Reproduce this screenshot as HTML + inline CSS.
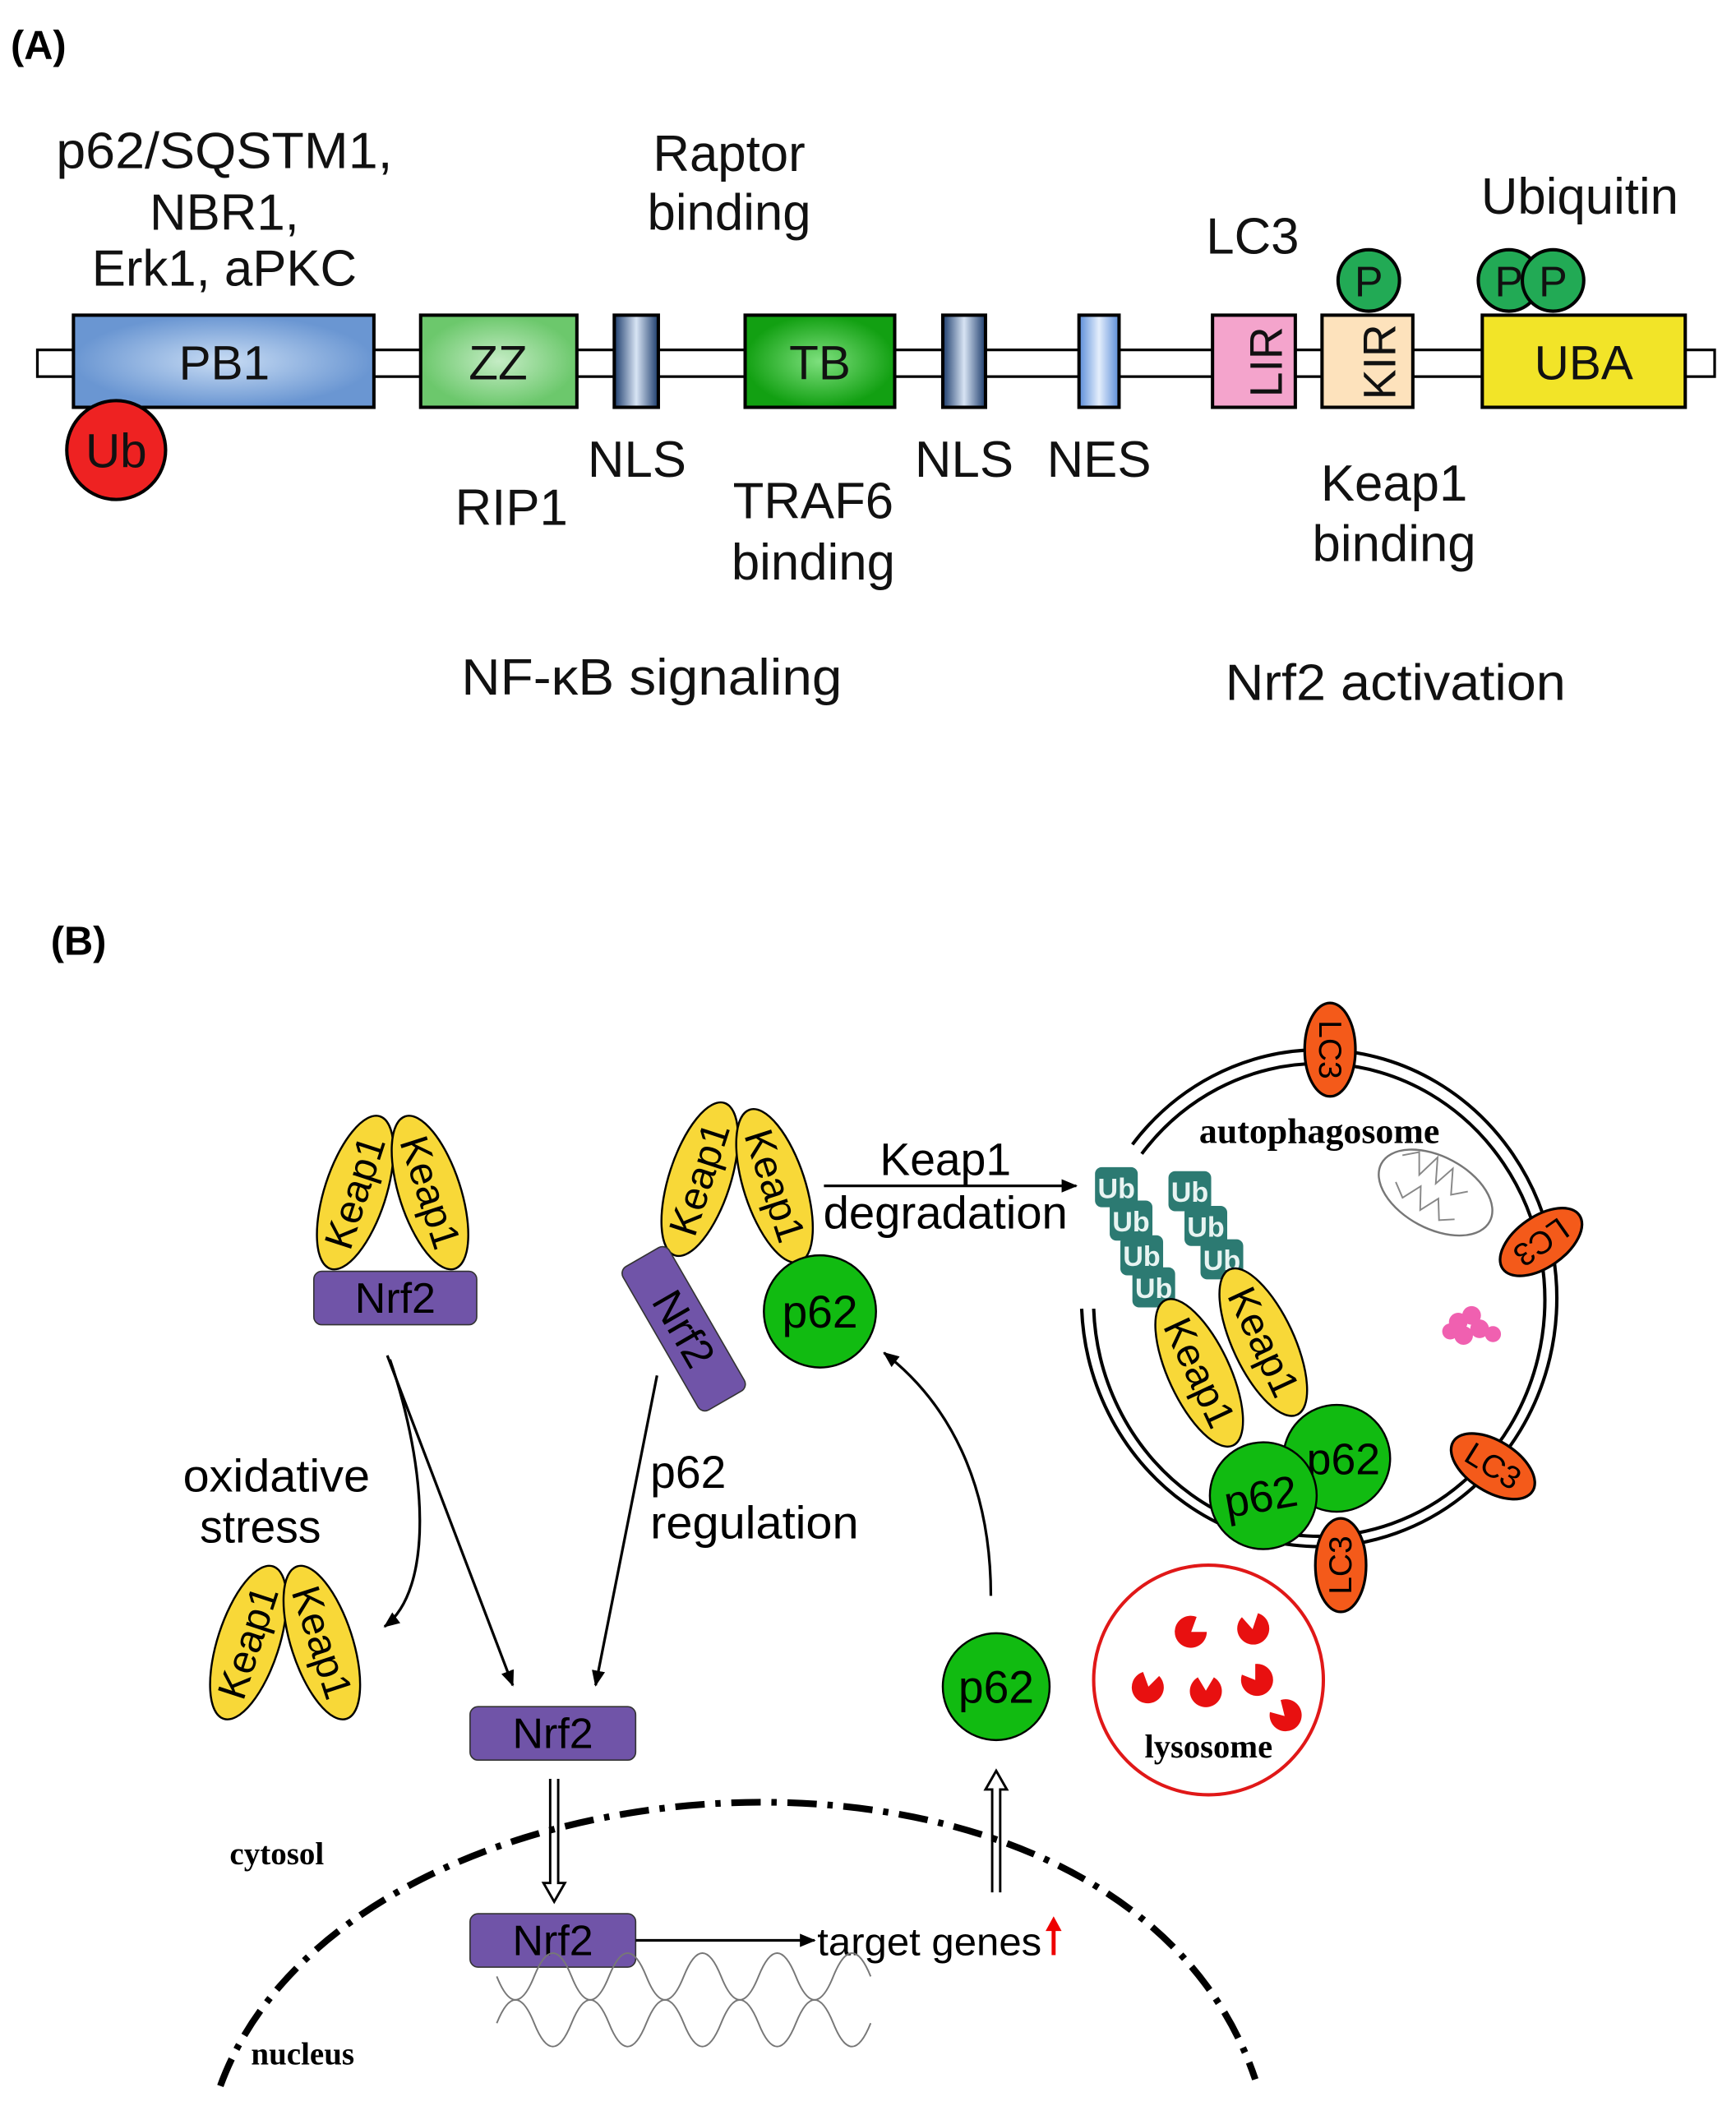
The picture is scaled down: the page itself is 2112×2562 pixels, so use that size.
<!DOCTYPE html>
<html><head><meta charset="utf-8"><style>
html,body{margin:0;padding:0;background:#fff}
svg{display:block}
text{font-family:"Liberation Sans","DejaVu Sans",sans-serif}
.d{font-family:"DejaVu Sans","Liberation Sans",sans-serif}
.s{font-family:"Liberation Serif",serif;font-weight:bold}
</style></head><body>
<svg width="2112" height="2562" viewBox="0 0 1300 1577" preserveAspectRatio="none" xmlns="http://www.w3.org/2000/svg">
<defs>
<radialGradient id="gb"><stop offset="0" stop-color="#c8dcf4"/><stop offset="1" stop-color="#6a96d2"/></radialGradient>
<radialGradient id="gz"><stop offset="0" stop-color="#c4ecc4"/><stop offset="1" stop-color="#6cc86c"/></radialGradient>
<radialGradient id="gt"><stop offset="0" stop-color="#7ee07e"/><stop offset="1" stop-color="#12a012"/></radialGradient>
<linearGradient id="gn" x1="0" x2="1"><stop offset="0" stop-color="#1c3c6c"/><stop offset=".5" stop-color="#d8e4f4"/><stop offset="1" stop-color="#1c3c6c"/></linearGradient>
<linearGradient id="ge" x1="0" x2="1"><stop offset="0" stop-color="#5a8cd8"/><stop offset=".5" stop-color="#e4eefc"/><stop offset="1" stop-color="#5a8cd8"/></linearGradient>
<marker id="ar" markerWidth="12" markerHeight="12" refX="11" refY="6" orient="auto" markerUnits="userSpaceOnUse"><path d="M0,1 L12,6 L0,11 z" fill="#000"/></marker>
<g id="kp"><ellipse rx="23" ry="60" fill="#f8d838" stroke="#000" stroke-width="1.5"/></g>
</defs>

<!-- Panel A -->
<text x="8" y="44" font-size="30" font-weight="bold">(A)</text>
<g font-size="38" text-anchor="middle" fill="#111">
<text x="168" y="126" textLength="252" lengthAdjust="spacingAndGlyphs">p62/SQSTM1,</text>
<text x="168" y="172">NBR1,</text>
<text x="168" y="214">Erk1, aPKC</text>
<text x="546" y="128">Raptor</text>
<text x="546" y="172">binding</text>
<text x="938" y="190">LC3</text>
<text x="1183" y="160">Ubiquitin</text>
<text x="383" y="393">RIP1</text>
<text x="477" y="357">NLS</text>
<text x="609" y="388">TRAF6</text>
<text x="609" y="434">binding</text>
<text x="722" y="357">NLS</text>
<text x="823" y="357">NES</text>
<text x="1044" y="375">Keap1</text>
<text x="1044" y="420">binding</text>
<text x="488" y="520" textLength="285" lengthAdjust="spacingAndGlyphs">NF-κB signaling</text>
<text x="1045" y="524" textLength="255" lengthAdjust="spacingAndGlyphs">Nrf2 activation</text>
</g>
<rect x="28" y="262" width="1256" height="20" fill="#fff" stroke="#000" stroke-width="2"/>
<g stroke="#000" stroke-width="2.5">
<rect x="55" y="236" width="225" height="69" fill="url(#gb)"/>
<rect x="315" y="236" width="117" height="69" fill="url(#gz)"/>
<rect x="460" y="236" width="33" height="69" fill="url(#gn)"/>
<rect x="558" y="236" width="112" height="69" fill="url(#gt)"/>
<rect x="706" y="236" width="32" height="69" fill="url(#gn)"/>
<rect x="808" y="236" width="30" height="69" fill="url(#ge)"/>
<rect x="908" y="236" width="62" height="69" fill="#f4a4cc"/>
<rect x="990" y="236" width="68" height="69" fill="#fde2bc"/>
<rect x="1110" y="236" width="152" height="69" fill="#f2e428"/>
<circle cx="87" cy="337" r="37" fill="#ee2222"/>
<circle cx="1025" cy="210" r="23" fill="#22aa55"/>
<circle cx="1130" cy="210" r="23" fill="#22aa55"/>
<circle cx="1163" cy="210" r="23" fill="#22aa55"/>
</g>
<g font-size="36" text-anchor="middle" fill="#111">
<text x="168" y="284">PB1</text>
<text x="373" y="284">ZZ</text>
<text x="614" y="284">TB</text>
<text x="1186" y="284">UBA</text>
<text x="87" y="350">Ub</text>
<text x="1025" y="222" font-size="32">P</text>
<text x="1130" y="222" font-size="32">P</text>
<text x="1163" y="222" font-size="32">P</text>
<text transform="translate(951,271) rotate(-90)" font-size="34" dominant-baseline="middle">LIR</text>
<text transform="translate(1036,271) rotate(-90)" font-size="34" dominant-baseline="middle">KIR</text>
</g>

<!-- Panel B -->
<text x="38" y="715" font-size="30" font-weight="bold">(B)</text>

<g class="d" font-size="30" text-anchor="middle">
<g transform="translate(266,893) rotate(18)"><use href="#kp"/><text transform="rotate(-90)" y="10">Keap1</text></g>
<g transform="translate(322,893) rotate(-18)"><use href="#kp"/><text transform="rotate(90)" y="10">Keap1</text></g>
<rect x="235" y="952" width="122" height="40" rx="6" fill="#7054a8" stroke="#333"/>
<text x="296" y="983" font-size="32">Nrf2</text>

<g transform="translate(524,883) rotate(18)"><use href="#kp"/><text transform="rotate(-90)" y="10">Keap1</text></g>
<g transform="translate(580,888) rotate(-18)"><use href="#kp"/><text transform="rotate(90)" y="10">Keap1</text></g>
<g transform="translate(512,995) rotate(60)"><rect x="-62" y="-20" width="124" height="40" rx="6" fill="#7054a8" stroke="#333"/><text y="11" font-size="32">Nrf2</text></g>
<circle cx="614" cy="982" r="42" fill="#11bb11" stroke="#000" stroke-width="1.5"/>
<text x="614" y="994" font-size="34">p62</text>

<line x1="617" y1="888" x2="806" y2="888" stroke="#000" stroke-width="2" marker-end="url(#ar)"/>
<text x="708" y="880" font-size="34">Keap1</text>
<text x="708" y="920" font-size="34" textLength="183" lengthAdjust="spacingAndGlyphs">degradation</text>

<line x1="290" y1="1015" x2="384" y2="1262" stroke="#000" stroke-width="2" marker-end="url(#ar)"/>
<path d="M292,1018 C320,1100 325,1190 288,1218" fill="none" stroke="#000" stroke-width="2" marker-end="url(#ar)"/>
<line x1="492" y1="1030" x2="446" y2="1262" stroke="#000" stroke-width="2" marker-end="url(#ar)"/>
<path d="M742,1195 C742,1110 710,1050 662,1013" fill="none" stroke="#000" stroke-width="2" marker-end="url(#ar)"/>
<text x="207" y="1117" font-size="34" textLength="140" lengthAdjust="spacingAndGlyphs">oxidative</text>
<text x="195" y="1155" font-size="34">stress</text>
<text x="487" y="1114" font-size="34" text-anchor="start">p62</text>
<text x="487" y="1152" font-size="34" text-anchor="start" textLength="156" lengthAdjust="spacingAndGlyphs">regulation</text>

<g transform="translate(186,1230) rotate(18)"><use href="#kp"/><text transform="rotate(-90)" y="10">Keap1</text></g>
<g transform="translate(241,1230) rotate(-18)"><use href="#kp"/><text transform="rotate(90)" y="10">Keap1</text></g>

<rect x="352" y="1278" width="124" height="40" rx="6" fill="#7054a8" stroke="#333"/>
<text x="414" y="1309" font-size="32">Nrf2</text>
<rect x="352" y="1433" width="124" height="40" rx="6" fill="#7054a8" stroke="#333"/>
<text x="414" y="1464" font-size="32">Nrf2</text>
<line x1="476" y1="1453" x2="610" y2="1453" stroke="#000" stroke-width="2" marker-end="url(#ar)"/>
<text x="612" y="1464" font-size="29" text-anchor="start" textLength="168" lengthAdjust="spacingAndGlyphs">target genes</text>

<circle cx="746" cy="1263" r="40" fill="#11bb11" stroke="#000" stroke-width="1.5"/>
<text x="746" y="1275" font-size="34">p62</text>
</g>
<line x1="789" y1="1464" x2="789" y2="1443" stroke="#e00" stroke-width="3"/>
<path d="M783,1446 L789,1435 L795,1446z" fill="#e00"/>

<g fill="#fff" stroke="#000" stroke-width="1.8">
<path d="M412,1332 L412,1410 L407,1410 L415,1424 L423,1410 L418,1410 L418,1332"/>
<path d="M743,1417 L743,1340 L738,1340 L746,1326 L754,1340 L749,1340 L749,1417"/>
</g>

<path d="M165,1562 C260,1300 840,1260 940,1557" fill="none" stroke="#000" stroke-width="5" stroke-dasharray="22,8,4,8"/>
<text x="172" y="1396" class="s" font-size="24">cytosol</text>
<text x="188" y="1546" class="s" font-size="24">nucleus</text>
<g fill="none" stroke="#777" stroke-width="1.2">
<path d="M372,1480 q14,35 28,0 t28,0 t28,0 t28,0 t28,0 t28,0 t28,0 t28,0 t28,0 t28,0"/>
<path d="M372,1515 q14,-35 28,0 t28,0 t28,0 t28,0 t28,0 t28,0 t28,0 t28,0 t28,0 t28,0"/>
</g>

<g fill="none" stroke="#000" stroke-width="2.5">
<path d="M848,857 A178,186 0 1 1 810,980"/>
<path d="M855,864 A169,177 0 1 1 819,980"/>
</g>
<text x="988" y="856" class="s" font-size="27" text-anchor="middle">autophagosome</text>
<ellipse cx="1075" cy="893" rx="46" ry="27" transform="rotate(28 1075 893)" fill="#fff" stroke="#777" stroke-width="1.5"/>
<path d="M1040,880 l10,-8 l8,15 l6,-18 l8,18 l6,-16 l8,18 l10,-8 M1045,900 l10,8 l8,-14 l8,16 l8,-14 l8,14 l10,-6" fill="none" stroke="#888" stroke-width="1.2" transform="rotate(28 1075 893)"/>
<g fill="#f060b0">
<circle cx="1092" cy="990" r="7"/><circle cx="1102" cy="985" r="7"/><circle cx="1108" cy="995" r="7"/><circle cx="1096" cy="1000" r="7"/><circle cx="1118" cy="999" r="6"/><circle cx="1086" cy="997" r="6"/>
</g>
<g fill="#2c7a72">
<rect x="820" y="874" width="32" height="30" rx="5"/><rect x="831" y="899" width="32" height="30" rx="5"/><rect x="839" y="925" width="32" height="30" rx="5"/><rect x="848" y="949" width="32" height="30" rx="5"/>
<rect x="875" y="877" width="32" height="30" rx="5"/><rect x="887" y="903" width="32" height="30" rx="5"/><rect x="899" y="928" width="32" height="30" rx="5"/>
</g>
<g fill="#e8f4f2" font-size="21" font-weight="bold" text-anchor="middle">
<text x="836" y="897">Ub</text><text x="847" y="922">Ub</text><text x="855" y="948">Ub</text><text x="864" y="972">Ub</text>
<text x="891" y="900">Ub</text><text x="903" y="926">Ub</text><text x="915" y="951">Ub</text>
</g>
<g class="d" font-size="30" text-anchor="middle">
<g transform="translate(898,1028) rotate(-25)"><use href="#kp"/><text transform="rotate(90)" y="10">Keap1</text></g>
<g transform="translate(946,1005) rotate(-25)"><use href="#kp"/><text transform="rotate(90)" y="10">Keap1</text></g>
<circle cx="1001" cy="1092" r="40" fill="#11bb11" stroke="#000" stroke-width="1.5"/>
<text x="1006" y="1104" font-size="33">p62</text>
<circle cx="946" cy="1120" r="40" fill="#11bb11" stroke="#000" stroke-width="1.5"/>
<text x="944" y="1132" font-size="33" transform="rotate(-10 944 1120)">p62</text>
</g>
<g font-size="24" text-anchor="middle">
<g transform="translate(996,786)"><ellipse rx="19" ry="35" fill="#f45a1a" stroke="#000" stroke-width="2"/><text transform="rotate(90)" y="8">LC3</text></g>
<g transform="translate(1154,930) rotate(55)"><ellipse rx="19" ry="35" fill="#f45a1a" stroke="#000" stroke-width="2"/><text transform="rotate(90)" y="8">LC3</text></g>
<g transform="translate(1118,1098) rotate(-58)"><ellipse rx="19" ry="35" fill="#f45a1a" stroke="#000" stroke-width="2"/><text transform="rotate(90)" y="8">LC3</text></g>
<g transform="translate(1004,1172)"><ellipse rx="19" ry="35" fill="#f45a1a" stroke="#000" stroke-width="2"/><text transform="rotate(-90)" y="8">LC3</text></g>
</g>

<circle cx="905" cy="1258" r="86" fill="none" stroke="#e01818" stroke-width="2.5"/>
<g fill="#e81010">
<path d="M892,1222 l0,-12 a12,12 0 1 0 11,8 z" transform="rotate(20 892 1222)"/>
<path d="M938,1220 l-8,-9 a12,12 0 1 0 12,-3 z"/>
<path d="M860,1263 l-4,-11 a12,12 0 1 0 12,3 z"/>
<path d="M903,1266 l-6,-10 a12,12 0 1 0 12,0 z"/>
<path d="M940,1258 l-10,-4 a12,12 0 1 0 10,-8 z"/>
<path d="M962,1285 l-11,-3 a12,12 0 1 0 8,-9 z"/>
</g>
<text x="905" y="1316" class="s" font-size="25" text-anchor="middle">lysosome</text>
</svg>
</body></html>
